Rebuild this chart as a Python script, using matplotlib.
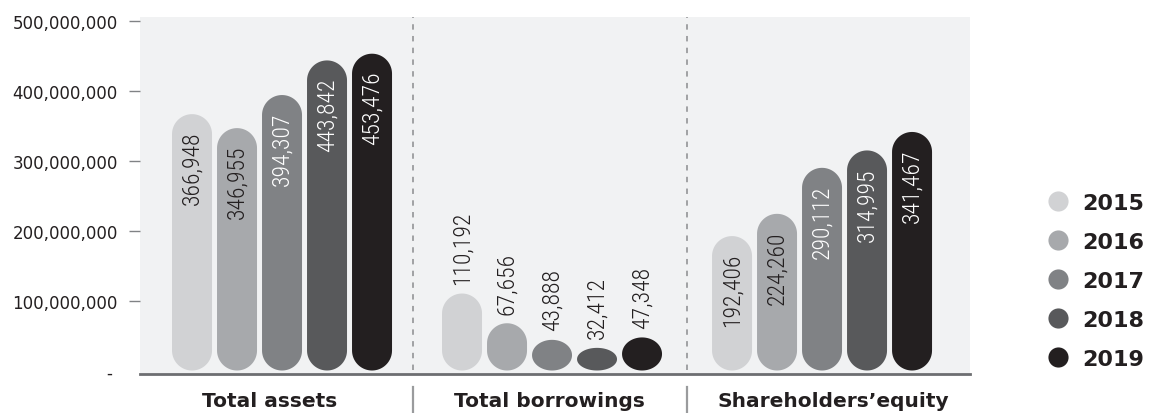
import numpy as np
import matplotlib
matplotlib.use("Agg")
import matplotlib.pyplot as plt
from matplotlib import font_manager
from matplotlib.patches import Polygon
from matplotlib.lines import Line2D

# values in thousands, axis in units
categories = ['Total assets', 'Total borrowings', 'Shareholders\u2019equity']
years = ['2015', '2016', '2017', '2018', '2019']
total_assets = [366948, 346955, 394307, 443842, 453476]
total_borrowings = [110192, 67656, 43888, 32412, 47348]
shareholders_equity = [192406, 224260, 290112, 314995, 341467]
colors = ['#d1d2d4', '#a7a9ac', '#808285', '#58595b', '#231f20']
label_colors = ['#231f20', '#231f20', 'white', 'white', 'white']
yticks = [0, 100e6, 200e6, 300e6, 400e6, 500e6]
ytick_labels = ['- ', '100,000,000', '200,000,000', '300,000,000',
                '400,000,000', '500,000,000']

series = np.array([total_assets, total_borrowings, shareholders_equity]).T * 1000

# narrow face for the numbers printed on the bars
names = {f.name for f in font_manager.fontManager.ttflist}
narrow = 'DejaVu Sans'
for cand in ['Roboto Condensed', 'Liberation Sans Narrow', 'Open Sans Condensed',
             'DejaVu Sans Condensed', 'Roboto']:
    if cand in names:
        narrow = cand
        break

W, H = 1157, 414
fig = plt.figure(figsize=(W / 100, H / 100), dpi=100)
ax = fig.add_axes([140 / W, 1 - 375 / H, 830 / W, 357 / H])
ax.set_facecolor('#f1f2f3')
ax.set_xlim(-0.526, 2.548)
ax.set_ylim(-5e6, 506e6)

step = 45 / 270
width = 40 / 270
offsets = (np.arange(len(years)) - 2) * step
x = np.arange(len(categories))

# pixel scales to keep the rounded ends circular
px_x = 830 / (2.548 + 0.526)
px_y = 357 / 511e6
rx = width / 2
ry_full = rx * px_x / px_y


def capsule(xc, h, color):
    ry = min(ry_full, h / 2)
    t = np.linspace(0, np.pi, 40)
    top = np.column_stack([xc + rx * np.cos(t), h - ry + ry * np.sin(t)])
    bot = np.column_stack([xc - rx * np.cos(t), ry - ry * np.sin(t)])
    ax.add_patch(Polygon(np.vstack([top, bot]), closed=True,
                         facecolor=color, edgecolor='none', zorder=3))


for i, yr in enumerate(years):
    for j in range(len(categories)):
        xc = x[j] + offsets[i]
        v = series[i, j]
        capsule(xc, v, colors[i])
        txt = f'{v / 1000:,.0f}'
        if v > 150e6:
            ax.annotate(txt, (xc, v), xytext=(0, -12), textcoords='offset points',
                        rotation=90, ha='center', va='top', fontsize=17,
                        family=narrow, fontweight='light',
                        color=label_colors[i], zorder=4)
        else:
            ax.annotate(txt, (xc, v), xytext=(0, 7), textcoords='offset points',
                        rotation=90, ha='center', va='bottom', fontsize=17,
                        family=narrow, fontweight='light',
                        color='#231f20', zorder=4)

# dashed separators between the groups
for sx in [0.485, 1.5]:
    ax.axvline(sx, ymin=0.01, ymax=1, color='#9a9b9d', lw=1.3,
               ls=(0, (3, 3.5)), zorder=2)
    ax.plot([sx, sx], [-0.036, -0.11], transform=ax.get_xaxis_transform(),
            color='#9a9b9d', lw=1.6, clip_on=False)

for s in ['top', 'right', 'left']:
    ax.spines[s].set_visible(False)
ax.spines['bottom'].set_color('#6d6e71')
ax.spines['bottom'].set_linewidth(2)

ax.set_yticks(yticks)
ax.set_yticklabels(ytick_labels, fontsize=12, color='#231f20')
ax.tick_params(axis='y', length=8, width=1, color='#808285', pad=8)
ax.yaxis.get_major_ticks()[0].tick1line.set_visible(False)

ax.set_xticks(x - [0.045, 0.01, -0.04])
ax.set_xticklabels(categories, fontsize=14.5, fontweight='bold', color='#231f20')
ax.tick_params(axis='x', length=0, pad=12)

handles = [Line2D([], [], ls='none', marker='o', markersize=14.5,
                  markerfacecolor=c, markeredgecolor='none') for c in colors]
leg = fig.legend(handles, years, loc='center left',
                 bbox_to_anchor=(1027 / W, 1 - 282 / H), frameon=False,
                 handlelength=1.0, handletextpad=0.6, labelspacing=0.86,
                 prop={'size': 16, 'weight': 'bold'})
for t in leg.get_texts():
    t.set_color('#231f20')

fig.savefig('out.png', dpi=100)
